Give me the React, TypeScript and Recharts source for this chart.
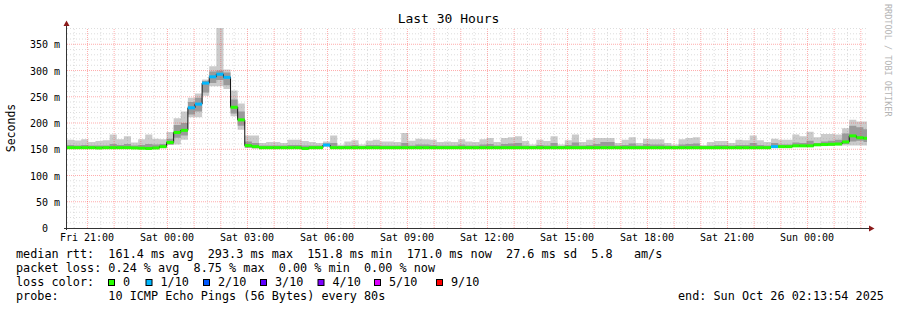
import { ComposedChart, Area, Line, Scatter, XAxis, YAxis, ReferenceLine } from 'recharts'

// time axis in hours relative to Sat 00:00
const T0 = -3.768 // Fri 20:13:54
const T1 = 26.232 // Sun 02:13:54
const STEP_H = 16 / 60

const W = 897
const H = 310
const PLOT_LEFT = 67
const PLOT_RIGHT = 867
const PLOT_TOP = 28
const PLOT_BOTTOM = 228
const Y_MAX = 381
const FONT = "'DejaVu Sans Mono', monospace"

// median rtt per 16 min bin (ms)
const median = [
  153, 153, 153, 153, 152.5, 153, 153, 153, 153, 152.5,
  152, 151.5, 152.5, 155, 163, 182, 186, 229, 236, 276,
  288, 293, 287, 230, 206, 157, 155, 153, 153, 153,
  153, 153, 153, 151.5, 153, 153, 158, 153, 153, 153,
  153, 153, 153, 153, 153, 153, 153, 153, 153, 153,
  153, 153, 153, 153, 153, 153, 153, 153, 153, 153,
  153, 153, 153, 153, 153, 153, 153, 153, 153, 153,
  153, 153, 153, 153, 153, 153, 153, 153, 153, 153,
  153, 153, 153, 153, 153, 153, 153, 153, 153, 153,
  153, 153, 153, 153, 153, 153, 153, 153, 153, 155,
  155, 155, 156.5, 156.5, 156.5, 158.5, 159, 159.5, 160, 164,
  175.5, 172, 171,
]

// smoke: fastest / slowest ping
const lo = [
  151.5, 151.5, 151.5, 151.5, 151.5, 151.5, 151.5, 151.5, 151.5, 151.5,
  151.5, 151.5, 151.5, 152, 158, 159, 168, 211, 211, 252,
  270, 270, 265, 213, 187, 153, 152, 151.5, 151.5, 151.5,
  151.5, 151.5, 151.5, 150.5, 151.5, 151.5, 155, 151.5, 151.5, 151.5,
  151.5, 151.5, 151.5, 151.5, 151.5, 151.5, 151.5, 151.5, 151.5, 151.5,
  151.5, 151.5, 151.5, 151.5, 151.5, 151.5, 151.5, 151.5, 151.5, 151.5,
  151.5, 151.5, 151.5, 151.5, 151.5, 151.5, 151.5, 151.5, 151.5, 151.5,
  151.5, 151.5, 151.5, 151.5, 151.5, 151.5, 151.5, 151.5, 151.5, 151.5,
  151.5, 151.5, 151.5, 151.5, 151.5, 151.5, 151.5, 151.5, 151.5, 151.5,
  151.5, 151.5, 151.5, 151.5, 151.5, 151.5, 151.5, 151.5, 151.5, 153,
  153, 153, 154.5, 154.5, 154.5, 156, 156, 156, 157, 157,
  157, 157, 157,
]
const hi = [
  168, 166.5, 169, 164, 165.5, 167, 178, 169, 175, 163,
  169, 178, 170, 169, 183, 209, 222, 248, 256, 283,
  308, 381, 302, 262, 237, 176, 176, 162, 164, 164,
  162, 168, 168, 165.5, 164, 162, 165, 176, 158.7, 165,
  167, 159, 166, 168, 165, 165, 164, 181, 166, 170,
  169, 168, 164, 165, 164, 169, 165, 164, 169, 171.5,
  164, 171.5, 173, 175, 165.5, 159, 168, 165.5, 175, 159,
  167, 178, 164, 168, 171.5, 171.5, 171.5, 162, 168, 173,
  162, 170, 169, 169, 162, 159, 169, 171.5, 173, 158,
  164, 165.5, 165.5, 162, 168, 167, 176, 167, 164, 170,
  168, 168, 178, 175, 183.5, 173, 179, 179, 178, 190,
  206, 203, 203,
]
// darker core of the smoke
const innerLo = [
  152, 152, 152, 152, 152, 152, 152, 152, 152, 152,
  152, 152, 152, 153, 159, 172, 176, 216, 222, 258,
  276, 282, 272, 218, 195, 153, 152, 152, 152, 152,
  152, 152, 152, 151, 152, 152, 156, 152, 152, 152,
  152, 152, 152, 152, 152, 152, 152, 152, 152, 152,
  152, 152, 152, 152, 152, 152, 152, 152, 152, 152,
  152, 152, 152, 152, 152, 152, 152, 152, 152, 152,
  152, 152, 152, 152, 152, 152, 152, 152, 152, 152,
  152, 152, 152, 152, 152, 152, 152, 152, 152, 152,
  152, 152, 152, 152, 152, 152, 152, 152, 152, 154,
  154, 154, 155, 155, 155, 157, 157, 157, 158, 160,
  165, 166, 164,
]
const innerHi = [
  158, 157, 158, 157, 157, 157, 160, 158, 160, 157,
  158, 160, 159, 160, 170, 196, 200, 240, 248, 280,
  298, 300, 296, 245, 222, 165, 162, 157, 157, 157,
  157, 158, 158, 157, 157, 157, 161, 162, 156, 157,
  158, 156, 158, 158, 157, 157, 157, 162, 157, 159,
  159, 158, 157, 157, 157, 159, 157, 157, 159, 160,
  157, 160, 161, 162, 157, 156, 158, 157, 162, 156,
  158, 163, 157, 158, 160, 164, 164, 157, 158, 161,
  157, 160, 159, 159, 157, 156, 159, 160, 161, 156,
  157, 158, 158, 157, 158, 158, 162, 158, 157, 162,
  159, 159, 163, 162, 166, 162, 165, 166, 168, 180,
  195, 192, 188,
]
// lost pings out of 10
const loss = [
  0, 0, 0, 0, 0, 0, 0, 0, 0, 0,
  0, 0, 0, 0, 0, 0, 0, 1, 1, 1,
  1, 1, 1, 0, 0, 0, 0, 0, 0, 0,
  0, 0, 0, 0, 0, 0, 1, 0, 0, 0,
  0, 0, 0, 0, 0, 0, 0, 0, 0, 0,
  0, 0, 0, 0, 0, 0, 0, 0, 0, 0,
  0, 0, 0, 0, 0, 0, 0, 0, 0, 0,
  0, 0, 0, 0, 0, 0, 0, 0, 0, 0,
  0, 0, 0, 0, 0, 0, 0, 0, 0, 0,
  0, 0, 0, 0, 0, 0, 0, 0, 0, 1,
  0, 0, 0, 0, 0, 0, 0, 0, 0, 0,
  0, 0, 0,
]

const xTicks = [-3, 0, 3, 6, 9, 12, 15, 18, 21, 24]
const xTickLabels = ['Fri 21:00', 'Sat 00:00', 'Sat 03:00', 'Sat 06:00', 'Sat 09:00',
  'Sat 12:00', 'Sat 15:00', 'Sat 18:00', 'Sat 21:00', 'Sun 00:00']
const yTicks = [0, 50, 100, 150, 200, 250, 300, 350]

const LOSS_COLORS = ['#26ff00', '#00b8ff', '#0059ff', '#5e00ff', '#7e00ff',
  '#dd00ff', '#dd00ff', '#dd00ff', '#dd00ff', '#ff0000', '#ff0000']
const legendLabels = ['0', '1/10', '2/10', '3/10', '4/10', '5/10', '9/10']
const legendColors = ['#26ff00', '#00b8ff', '#0059ff', '#5e00ff', '#7e00ff', '#dd00ff', '#ff0000']
const legendX = [108, 145.5, 203, 260, 317.5, 374, 436]

const rows = median.map((m, i) => ({
  t: T0 + i * STEP_H,
  median: m,
  smoke: [lo[i], hi[i]],
  core: [innerLo[i], innerHi[i]],
  loss: loss[i],
}))
const chartRows = [...rows, { ...rows[rows.length - 1], t: T1 }]

const BIN_PX = ((PLOT_RIGHT - PLOT_LEFT) / (T1 - T0)) * STEP_H

const minorY = Array.from({ length: 38 }, (_, i) => (i + 1) * 10).filter(v => v % 50 !== 0)
const majorY = [50, 100, 150, 200, 250, 300, 350]
const minorX = Array.from({ length: 60 }, (_, i) => -3.5 + i * 0.5).filter(v => v % 1 !== 0)
const majorX = Array.from({ length: 30 }, (_, i) => -3 + i)

const MINOR = 'rgba(150,150,150,0.32)'
const MAJOR = 'rgba(255,60,60,0.42)'

function MedianMark(props: any) {
  const { cx, cy, payload } = props
  if (cx == null || cy == null) return null
  const w = Math.min(BIN_PX, PLOT_RIGHT - cx)
  return <rect x={cx} y={cy - 1.5} width={w} height={3} fill={LOSS_COLORS[payload.loss]} />
}

function XTick(props: any) {
  const { x, y, payload } = props
  const idx = xTicks.indexOf(payload.value)
  return (
    <text x={Math.round(x)} y={Math.round(y) + 13} textAnchor="middle" fontSize={10}
      fontFamily={FONT} fill="#000" stroke="none">
      {xTickLabels[idx]}
    </text>
  )
}

function YTick(props: any) {
  const { y, payload } = props
  const v = payload.value
  return (
    <text x={v === 0 ? PLOT_LEFT - 19 : PLOT_LEFT - 7} y={Math.round(y) + 4} textAnchor="end"
      fontSize={10} fontFamily={FONT} fill="#000" stroke="none">
      {v === 0 ? '0' : `${v} m`}
    </text>
  )
}

const pre = { whiteSpace: 'pre' as const }

export default function App() {
  return (
    <div style={{ position: 'absolute', left: 0, top: 0, width: W, height: H, background: '#fff', fontFamily: FONT }}>
      <ComposedChart width={W} height={H} data={chartRows}
        margin={{ top: PLOT_TOP, right: W - PLOT_RIGHT, bottom: H - PLOT_BOTTOM - 20, left: 0 }}>
        <XAxis dataKey="t" type="number" domain={[T0, T1]} ticks={xTicks} allowDataOverflow
          axisLine={false} tickLine={false} tickSize={0} tickMargin={0} height={20} tick={<XTick />} />
        <YAxis type="number" domain={[0, Y_MAX]} ticks={yTicks} allowDataOverflow
          axisLine={false} tickLine={false} width={PLOT_LEFT} tick={<YTick />} />
        <Area dataKey="smoke" type="stepAfter" stroke="none" fill="#cbcbcb" fillOpacity={1}
          isAnimationActive={false} activeDot={false} />
        <Area dataKey="core" type="stepAfter" stroke="none" fill="#9a9a9a" fillOpacity={1}
          isAnimationActive={false} activeDot={false} />
        {minorY.map(v => (
          <ReferenceLine key={`my${v}`} y={v} stroke={MINOR} strokeDasharray="1 2" />
        ))}
        {minorX.map(v => (
          <ReferenceLine key={`mx${v}`} x={v} stroke={MINOR} strokeDasharray="1 2" />
        ))}
        {majorY.map(v => (
          <ReferenceLine key={`My${v}`} y={v} stroke={MAJOR} strokeDasharray="1 1" />
        ))}
        {majorX.map(v => (
          <ReferenceLine key={`Mx${v}`} x={v} stroke={MAJOR} strokeDasharray="1 1" />
        ))}
        <Line dataKey="median" type="stepAfter" stroke="#111" strokeWidth={1} dot={false}
          activeDot={false} isAnimationActive={false} />
        <Scatter data={rows} dataKey="median" shape={<MedianMark />} isAnimationActive={false} />
      </ComposedChart>

      <svg width={W} height={H} style={{ position: 'absolute', left: 0, top: 0, pointerEvents: 'none' }}
        fontFamily={FONT}>
        <text x={448.5} y={23} textAnchor="middle" fontSize={13} fill="#000">Last 30 Hours</text>
        <text transform={`translate(15,${(PLOT_TOP + PLOT_BOTTOM) / 2}) rotate(-90)`} textAnchor="middle"
          fontSize={11.5} fill="#000">Seconds</text>
        <text transform="translate(885,4) rotate(90)" fontSize={8.5} fill="#b4b4b4" style={pre}>
          RRDTOOL / TOBI OETIKER
        </text>

        {/* axes with arrows */}
        <line x1={PLOT_LEFT - 0.5} y1={PLOT_BOTTOM + 2} x2={PLOT_LEFT - 0.5} y2={25} stroke="#333" />
        <line x1={PLOT_LEFT - 3} y1={PLOT_BOTTOM + 0.5} x2={870} y2={PLOT_BOTTOM + 0.5} stroke="#333" />
        <polygon points={`${PLOT_LEFT - 3.5},26 ${PLOT_LEFT + 2.5},26 ${PLOT_LEFT - 0.5},20.5`} fill="#8b1a1a" />
        <polygon points={`869,${PLOT_BOTTOM - 2.5} 869,${PLOT_BOTTOM + 3.5} 874.5,${PLOT_BOTTOM + 0.5}`} fill="#8b1a1a" />

        <text x={16} y={258} fontSize={11.8} fill="#000" style={pre}>
          {'median rtt:  161.4 ms avg  293.3 ms max  151.8 ms min  171.0 ms now  27.6 ms sd  5.8   am/s'}
        </text>
        <text x={16} y={272} fontSize={11.8} fill="#000" style={pre}>
          {'packet loss: 0.24 % avg  8.75 % max  0.00 % min  0.00 % now'}
        </text>
        <text x={16} y={286} fontSize={11.8} fill="#000" style={pre}>{'loss color:'}</text>
        {legendLabels.map((l, i) => (
          <g key={l}>
            <rect x={legendX[i] + 0.5} y={279.5} width={6} height={6} fill={legendColors[i]} stroke="#000" />
            <text x={legendX[i] + 15} y={286} fontSize={11.8} fill="#000">{l}</text>
          </g>
        ))}
        <text x={16} y={300} fontSize={11.8} fill="#000" style={pre}>
          {'probe:       10 ICMP Echo Pings (56 Bytes) every 80s'}
        </text>
        <text x={678} y={300} fontSize={11.8} fill="#000" style={pre}>
          {'end: Sun Oct 26 02:13:54 2025'}
        </text>
      </svg>
    </div>
  )
}
